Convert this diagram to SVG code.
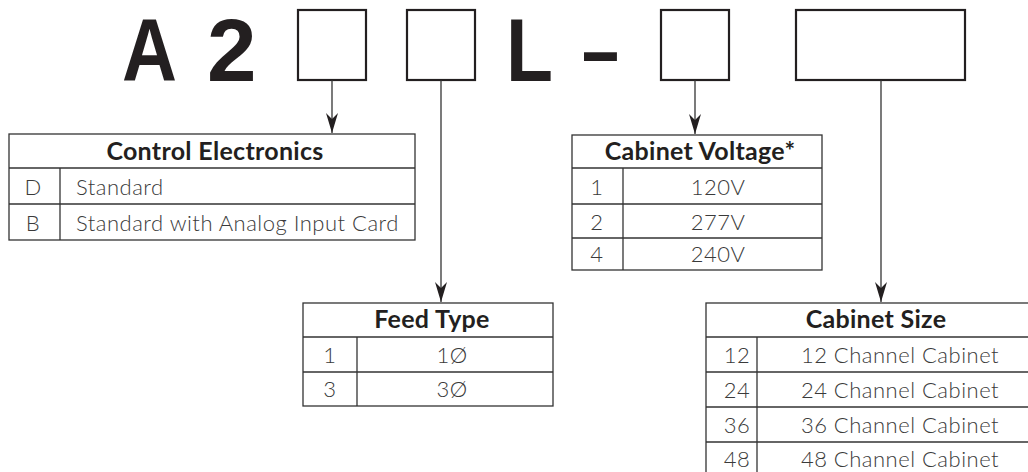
<svg xmlns="http://www.w3.org/2000/svg" width="1028" height="472" viewBox="0 0 1028 472">
<defs>
<style>
.big{font-family:"Liberation Sans",Arial,sans-serif;font-weight:bold;font-size:89px;fill:#231f20}
.box{fill:#fff;stroke:#231f20;stroke-width:2.2}
.tb{fill:#fff;stroke:#333;stroke-width:1.3}
.ln{stroke:#333;stroke-width:1.3;fill:none}
.hd{font-family:Lato,"Open Sans",sans-serif;font-weight:bold;font-size:25px;letter-spacing:0.3px;fill:#231f20;text-anchor:middle}
.tx{font-family:Lato,"Open Sans",sans-serif;font-weight:300;font-size:22px;letter-spacing:0.5px;fill:#3a3a3a}
.c{text-anchor:middle}
.con{stroke:#333;stroke-width:1.3;fill:none;marker-end:url(#ah)}
</style>
<marker id="ah" markerUnits="userSpaceOnUse" markerWidth="20" markerHeight="12" refX="20" refY="6" orient="auto" viewBox="0 0 20 12">
<path d="M0,0 L20,6 L0,12 L6,6 Z" fill="#231f20"/>
</marker>
</defs>
<rect width="1028" height="472" fill="#fff"/>

<g id="code">
<text class="big" x="122" y="81" textLength="55" lengthAdjust="spacingAndGlyphs">A</text>
<text class="big" x="207" y="81">2</text>
<rect id="box1" class="box" x="298" y="10" width="68" height="70"/>
<rect id="box2" class="box" x="407" y="10" width="68" height="70"/>
<text class="big" x="506" y="81" textLength="47" lengthAdjust="spacingAndGlyphs">L</text>
<text class="big" x="582" y="81" textLength="37" lengthAdjust="spacingAndGlyphs">–</text>
<rect id="box3" class="box" x="661" y="10" width="68" height="70"/>
<rect id="box4" class="box" x="796" y="10" width="169" height="70"/>
</g>

<g id="connectors">
<line class="con" x1="332" y1="80" x2="332" y2="133"/>
<line class="con" x1="441" y1="80" x2="441" y2="302"/>
<line class="con" x1="695" y1="80" x2="695" y2="134"/>
<line class="con" x1="881" y1="80" x2="881" y2="302"/>
</g>

<g id="control-electronics">
<rect class="tb" x="9" y="134" width="406" height="106"/>
<line class="ln" x1="9" y1="168" x2="415" y2="168"/>
<line class="ln" x1="9" y1="204" x2="415" y2="204"/>
<line class="ln" x1="60" y1="168" x2="60" y2="240"/>
<text class="hd" x="215" y="160">Control Electronics</text>
<text class="tx c" x="33" y="195">D</text>
<text class="tx" x="76" y="195">Standard</text>
<text class="tx c" x="33" y="231">B</text>
<text class="tx" x="76" y="231">Standard with Analog Input Card</text>
</g>

<g id="cabinet-voltage">
<rect class="tb" x="572" y="135" width="250" height="135"/>
<line class="ln" x1="572" y1="168" x2="822" y2="168"/>
<line class="ln" x1="572" y1="204" x2="822" y2="204"/>
<line class="ln" x1="572" y1="238" x2="822" y2="238"/>
<line class="ln" x1="623" y1="168" x2="623" y2="270"/>
<text class="hd" x="700" y="160">Cabinet Voltage*</text>
<text class="tx c" x="597" y="195">1</text>
<text class="tx c" x="718" y="195">120V</text>
<text class="tx c" x="597" y="230">2</text>
<text class="tx c" x="718" y="230">277V</text>
<text class="tx c" x="597" y="262">4</text>
<text class="tx c" x="718" y="262">240V</text>
</g>

<g id="feed-type">
<rect class="tb" x="303" y="303" width="250" height="103"/>
<line class="ln" x1="303" y1="337" x2="553" y2="337"/>
<line class="ln" x1="303" y1="372" x2="553" y2="372"/>
<line class="ln" x1="357" y1="337" x2="357" y2="406"/>
<text class="hd" x="432" y="328">Feed Type</text>
<text class="tx c" x="330" y="363">1</text>
<text class="tx c" x="452" y="363">1Ø</text>
<text class="tx c" x="330" y="397">3</text>
<text class="tx c" x="452" y="397">3Ø</text>
</g>

<g id="cabinet-size">
<rect class="tb" x="706" y="303" width="337" height="180"/>
<line class="ln" x1="706" y1="337" x2="1043" y2="337"/>
<line class="ln" x1="706" y1="372" x2="1043" y2="372"/>
<line class="ln" x1="706" y1="407" x2="1043" y2="407"/>
<line class="ln" x1="706" y1="442" x2="1043" y2="442"/>
<line class="ln" x1="757" y1="337" x2="757" y2="483"/>
<text class="hd" x="876" y="328">Cabinet Size</text>
<text class="tx c" x="737" y="363">12</text>
<text class="tx c" x="900" y="363">12 Channel Cabinet</text>
<text class="tx c" x="737" y="398">24</text>
<text class="tx c" x="900" y="398">24 Channel Cabinet</text>
<text class="tx c" x="737" y="433">36</text>
<text class="tx c" x="900" y="433">36 Channel Cabinet</text>
<text class="tx c" x="737" y="467">48</text>
<text class="tx c" x="900" y="467">48 Channel Cabinet</text>
</g>
</svg>
